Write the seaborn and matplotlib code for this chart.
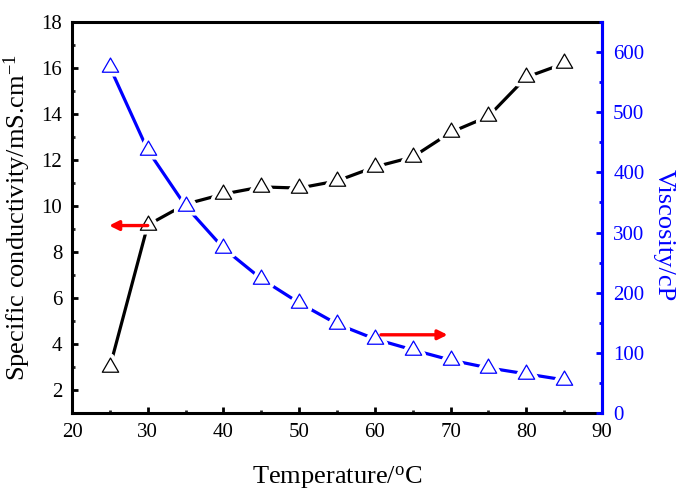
import matplotlib
matplotlib.use("Agg")
import matplotlib.pyplot as plt
import seaborn as sns
import pandas as pd
from matplotlib.ticker import MultipleLocator
from matplotlib.markers import MarkerStyle
from matplotlib.path import Path

temperature = [25, 30, 35, 40, 45, 50, 55, 60, 65, 70, 75, 80, 85]
conductivity = [3.0, 9.17, 10.08, 10.52, 10.83, 10.78, 11.09, 11.7, 12.13, 13.2, 13.9, 15.6, 16.2]
viscosity = [575, 437, 344, 274, 223, 183, 148, 123, 105, 88, 75, 65, 55]

sns.set_theme(style="ticks")
plt.rcParams['font.family'] = ['Liberation Serif', 'DejaVu Serif']
plt.rcParams['mathtext.fontset'] = 'custom'
plt.rcParams['mathtext.rm'] = 'Liberation Serif'
plt.rcParams['mathtext.it'] = 'Liberation Serif'
plt.rcParams['text.color'] = 'black'
plt.rcParams['axes.labelcolor'] = 'black'

BLUE = "#0000FF"
df = pd.DataFrame({"T": temperature, "C": conductivity, "V": viscosity})

# equilateral triangle marker (centroid at origin)
tri = MarkerStyle(Path([(-1, -0.577), (1, -0.577), (0, 1.155), (-1, -0.577)],
                       [Path.MOVETO, Path.LINETO, Path.LINETO, Path.CLOSEPOLY]))

fig = plt.figure(figsize=(6.86, 4.98), dpi=100)
ax = fig.add_axes([0.105, 0.1707, 0.7726, 0.7851])
ax2 = ax.twinx()

def series(axis, col, color):
    sns.lineplot(data=df, x="T", y=col, ax=axis, color=color, lw=2.3, zorder=2)
    sns.scatterplot(data=df, x="T", y=col, ax=axis, marker=tri, s=200,
                    color="white", edgecolor="white", linewidth=6, zorder=3)
    sns.scatterplot(data=df, x="T", y=col, ax=axis, marker=tri, s=185,
                    color="white", edgecolor=color, linewidth=0.9, zorder=4)

series(ax, "C", "black")
series(ax2, "V", BLUE)

ax.set_xlim(20, 90)
ax.set_ylim(1, 18)
ax2.set_ylim(0, 650)

ax.xaxis.set_major_locator(MultipleLocator(10))
ax.xaxis.set_minor_locator(MultipleLocator(5))
ax.yaxis.set_major_locator(MultipleLocator(2))
ax.yaxis.set_minor_locator(MultipleLocator(1))
ax2.yaxis.set_major_locator(MultipleLocator(100))
ax2.yaxis.set_minor_locator(MultipleLocator(50))

for sp in ax.spines.values():
    sp.set_linewidth(2.2)
    sp.set_color("black")
for name, sp in ax2.spines.items():
    sp.set_linewidth(2.2)
ax2.spines['right'].set_color(BLUE)
ax2.spines['left'].set_visible(False)
ax2.spines['top'].set_visible(False)
ax2.spines['bottom'].set_visible(False)

ax.tick_params(axis='both', which='major', direction='in', length=4.5, width=2,
               labelsize=15, colors='black', top=False, right=False, pad=7)
ax.tick_params(axis='both', which='minor', direction='in', length=2.5, width=2,
               top=False, right=False)
ax2.tick_params(axis='y', which='major', direction='in', length=4.5, width=2,
                labelsize=15, colors=BLUE, pad=8)
ax2.tick_params(axis='y', which='minor', direction='in', length=2.5, width=2,
                colors=BLUE)

ax.set_xlabel(r"Temperature/$^{\mathrm{o}}$C", fontsize=19, labelpad=16)
ax.set_ylabel(r"Specific conductivity/mS.cm$^{\mathrm{-1}}$", fontsize=19, labelpad=6)
ax2.set_ylabel("Viscosity/cP", fontsize=19, color=BLUE, rotation=270, labelpad=24)
ax2.yaxis.set_label_coords(1.137, 0.455)

ax.annotate("", xy=(24.9, 9.15), xytext=(30.0, 9.15),
            arrowprops=dict(arrowstyle="-|>", color="red", lw=2.4,
                            mutation_scale=14, shrinkA=0, shrinkB=0), zorder=5)
ax2.annotate("", xy=(69.6, 130), xytext=(60.8, 130),
             arrowprops=dict(arrowstyle="-|>", color="red", lw=2.4,
                             mutation_scale=14, shrinkA=0, shrinkB=0), zorder=5)

ax.grid(False)
ax2.grid(False)
fig.savefig("out.png", dpi=100)
